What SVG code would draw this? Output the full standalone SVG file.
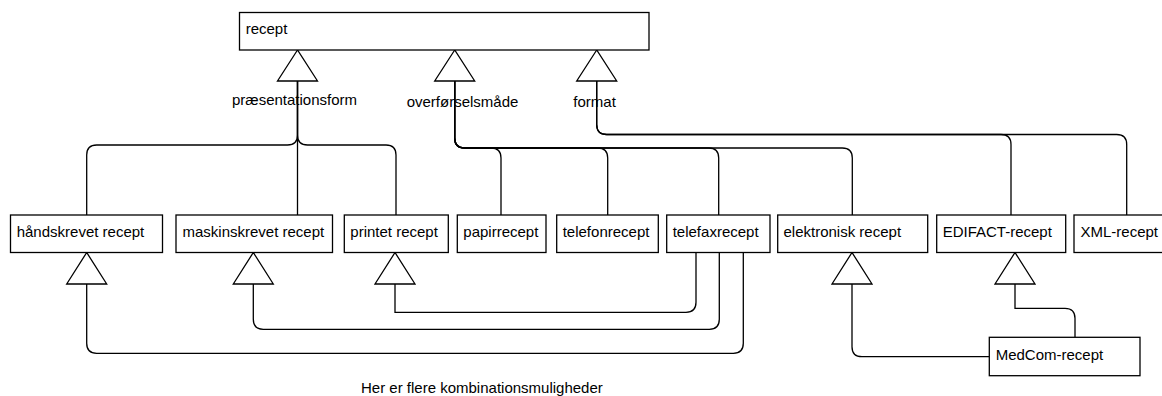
<svg xmlns="http://www.w3.org/2000/svg" width="1162" height="396" viewBox="0 0 1162 396">
<style>
.box{fill:#fff;stroke:#000;stroke-width:1.3}
.t{font-family:"Liberation Sans",Arial,sans-serif;font-size:15px;fill:#000}
.c{fill:none;stroke:#000;stroke-width:1.3}
.tri{fill:#fff;stroke:#000;stroke-width:1.3}
</style>
<rect width="1162" height="396" fill="#fff"/>
<g id="connectors">
<path class="c" d="M297.5,81 V135 Q297.5,145 287.5,145 H96.7 Q86.7,145 86.7,155 V215"/>
<path class="c" d="M297.5,81 V215"/>
<path class="c" d="M297.5,81 V135 Q297.5,145 307.5,145 H386 Q396,145 396,155 V215"/>
<path class="c" d="M454.7,81 V138 Q454.7,148 464.7,148 H491 Q501,148 501,158 V215"/>
<path class="c" d="M454.7,81 V138 Q454.7,148 464.7,148 H597.7 Q607.7,148 607.7,158 V215"/>
<path class="c" d="M454.7,81 V138 Q454.7,148 464.7,148 H708.7 Q718.7,148 718.7,158 V215"/>
<path class="c" d="M454.7,81 V138 Q454.7,148 464.7,148 H842.3 Q852.3,148 852.3,158 V215"/>
<path class="c" d="M596.7,81 V124.5 Q596.7,134.5 606.7,134.5 H1001 Q1011,134.5 1011,144.5 V215"/>
<path class="c" d="M596.7,81 V124.5 Q596.7,134.5 606.7,134.5 H1116.7 Q1126.7,134.5 1126.7,144.5 V215"/>
<path class="c" d="M743.3,252.5 V343.3 Q743.3,353.3 733.3,353.3 H96.7 Q86.7,353.3 86.7,343.3 V284"/>
<path class="c" d="M719.3,252.5 V319.3 Q719.3,329.3 709.3,329.3 H263.3 Q253.3,329.3 253.3,319.3 V284"/>
<path class="c" d="M696,252.5 V302.3 Q696,312.3 686,312.3 H395 V284"/>
<path class="c" d="M989.3,356.7 H862 Q852,356.7 852,346.7 V284"/>
<path class="c" d="M1075,337.3 V318.3 Q1075,308.3 1065,308.3 H1015 V284"/>
<polygon class="tri" points="297.5,50 277.5,81 317.5,81"/>
<polygon class="tri" points="454.7,50 434.7,81 474.7,81"/>
<polygon class="tri" points="596.7,50 576.7,81 616.7,81"/>
<polygon class="tri" points="86.7,252.5 66.7,284 106.7,284"/>
<polygon class="tri" points="253.3,252.5 233.3,284 273.3,284"/>
<polygon class="tri" points="395,252.5 375,284 415,284"/>
<polygon class="tri" points="852,252.5 832,284 872,284"/>
<polygon class="tri" points="1015,252.5 995,284 1035,284"/>
</g>
<g id="labels">
<text class="t" x="232" y="105">præsentationsform</text>
<text class="t" x="406.7" y="107">overførselsmåde</text>
<text class="t" x="573.3" y="107">format</text>
<text class="t" x="361" y="393">Her er flere kombinationsmuligheder</text>
</g>
<g id="recept"><rect class="box" x="239.5" y="12.5" width="409.5" height="37.5"/><text class="t" x="245.7" y="33.5">recept</text></g>
<g id="haandskrevet"><rect class="box" x="10.5" y="215" width="152" height="37.5"/><text class="t" x="16.7" y="237.3">håndskrevet recept</text></g>
<g id="maskinskrevet"><rect class="box" x="176" y="215" width="156.5" height="37.5"/><text class="t" x="182.5" y="237.3">maskinskrevet recept</text></g>
<g id="printet"><rect class="box" x="344.3" y="215" width="104" height="37.5"/><text class="t" x="350.3" y="237.3">printet recept</text></g>
<g id="papir"><rect class="box" x="457.3" y="215" width="88.7" height="37.5"/><text class="t" x="463.3" y="237.3">papirrecept</text></g>
<g id="telefon"><rect class="box" x="556.7" y="215" width="101.6" height="37.5"/><text class="t" x="562.7" y="237.3">telefonrecept</text></g>
<g id="telefax"><rect class="box" x="666.7" y="215" width="103.3" height="37.5"/><text class="t" x="672.7" y="237.3">telefaxrecept</text></g>
<g id="elektronisk"><rect class="box" x="777.7" y="215" width="150" height="37.5"/><text class="t" x="783.5" y="237.3">elektronisk recept</text></g>
<g id="edifact"><rect class="box" x="936.7" y="215" width="129" height="37.5"/><text class="t" x="942.7" y="237.3">EDIFACT-recept</text></g>
<g id="xml"><rect class="box" x="1074" y="215" width="100" height="37.5"/><text class="t" x="1080.5" y="237.3">XML-recept</text></g>
<g id="medcom"><rect class="box" x="989.3" y="337.3" width="150.7" height="38.4"/><text class="t" x="995.7" y="360">MedCom-recept</text></g>
</svg>
